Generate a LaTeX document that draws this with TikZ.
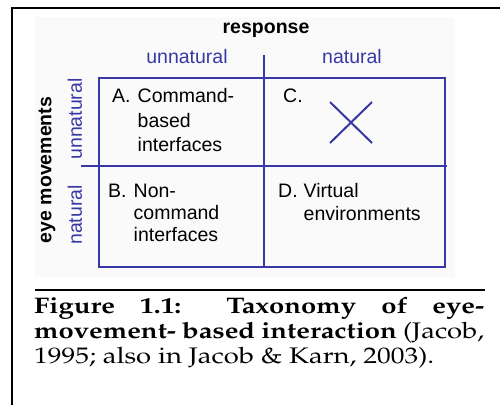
\documentclass[tikz,border=0pt]{standalone}
\usepackage[T1]{fontenc}
\usepackage{fontspec}
\setsansfont{Liberation Sans}
\usepackage{graphicx}
\definecolor{gridblue}{RGB}{56,56,164}
\definecolor{panelgrey}{RGB}{250,250,250}
\newcommand\capfont{\fontencoding{T1}\fontfamily{ppl}\selectfont}
\newcommand\lbl[1]{\makebox[25.5pt][l]{#1}}
\newcommand\fullline[1]{\makebox[\linewidth][s]{#1}}
\begin{document}
\begin{tikzpicture}[x=1pt,y=-1pt,
  gridline/.style={gridblue, line width=2pt},
  frameline/.style={black, line width=2.2pt},
  celltext/.style={anchor=base west, inner sep=0pt, font=\sffamily\fontsize{19.5}{24.5}\selectfont},
  axislabel/.style={inner sep=0pt, text=gridblue, font=\sffamily\fontsize{19.5}{23}\selectfont},
  heading/.style={inner sep=0pt, font=\sffamily\bfseries\fontsize{19.5}{23}\selectfont}]
\useasboundingbox (0,0) rectangle (500,405);
\fill[white] (0,0) rectangle (500,405);
% faint panel behind the chart
\fill[panelgrey] (35,17) rectangle (455,277);
% page frame
\coordinate (fbot) at (12,405);
\coordinate (fcorner) at (12,8);
\coordinate (fright) at (500,8);
\draw[frameline] (fbot) -- (fcorner) -- (fright);

% 2x2 grid
\coordinate (nw) at (99,78);
\coordinate (se) at (445,267);
\coordinate (vtop) at (264,55);
\coordinate (vbot) at (264,267);
\coordinate (hleft) at (81,166);
\coordinate (hright) at (447,166);
\draw[gridline] (nw) rectangle (se);
\draw[gridline] (vtop) -- (vbot);
\draw[gridline] (hleft) -- (hright);

% cross in cell C
\coordinate (xa) at (330,102);
\coordinate (xb) at (372,143);
\coordinate (xc) at (330,143);
\coordinate (xd) at (372,102);
\draw[gridline] (xa) -- (xb) (xc) -- (xd);

% axis headings
\node[heading, anchor=base] (resp) at (266,33) {response};
\node[axislabel, anchor=base] (runnat) at (187,63) {unnatural};
\node[axislabel, anchor=base] (rnat) at (352,63) {natural};
\node[heading, rotate=90] (eye) at (47,170) {eye movements};
\node[axislabel, rotate=90] (eunnat) at (75,119) {unnatural};
\node[axislabel, rotate=90] (enat) at (75,215) {natural};

% cell contents
\node[celltext] (cellA) at (112,102.7) {\begin{tabular}[t]{@{}l@{}l@{}}\lbl{A.}&Command-\\ &based\\ &interfaces\end{tabular}};
\node[celltext] (cellC) at (283,102.7) {C.};
\node[celltext, font=\sffamily\fontsize{19.5}{22}\selectfont] (cellB) at (108,197.3) {\begin{tabular}[t]{@{}l@{}l@{}}\lbl{B.}&Non-\\ &command\\ &interfaces\end{tabular}};
\node[celltext, font=\sffamily\fontsize{19.5}{23}\selectfont] (cellD) at (278,197.3) {\begin{tabular}[t]{@{}l@{}l@{}}\lbl{D.}&Virtual\\ &environments\end{tabular}};

% caption: two justified lines and a ragged last line
\coordinate (rulel) at (35,290);
\coordinate (ruler) at (485,290);
\draw[black, line width=2pt] (rulel) -- (ruler);
\node[anchor=base west, inner sep=0pt] (caption) at (34,313) {\scalebox{1.22}[1]{\parbox[t]{368.9pt}{\capfont\fontsize{22.5}{25}\selectfont
\fullline{\textbf{Figure 1.1: Taxonomy of eye-}}\\
\fullline{\textbf{movement- based interaction} (Jacob,}\\
1995; also in Jacob \& Karn, 2003).}}};
\end{tikzpicture}
\end{document}
